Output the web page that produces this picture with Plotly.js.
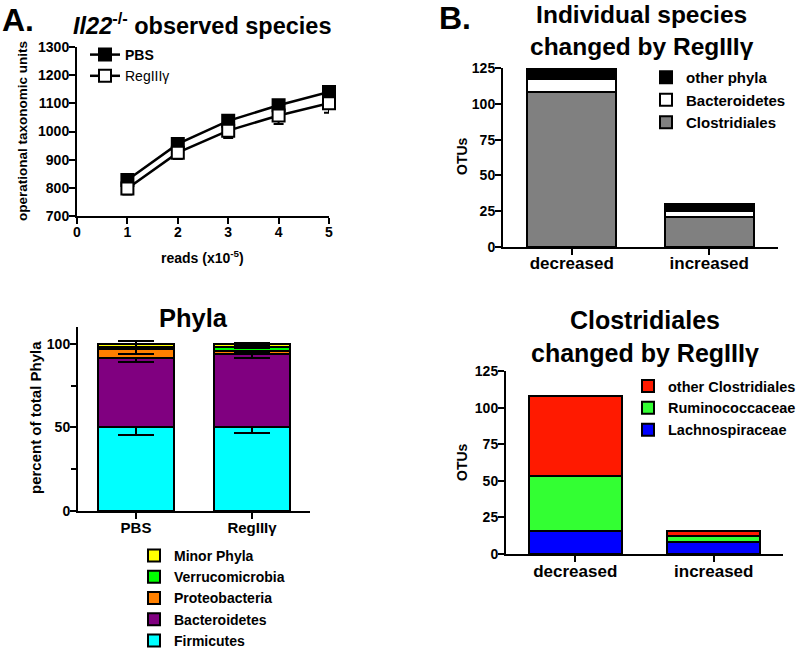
<!DOCTYPE html>
<html>
<head>
<meta charset="utf-8">
<script src="https://cdn.plot.ly/plotly-3.0.1.min.js"></script>
<style>html,body{margin:0;padding:0;background:#fff;}#chart{width:800px;height:648px;}</style>
</head>
<body>
<div id="chart"></div>
<script>
// ---- Panel A (top): observed species rarefaction ----
const reads = [1, 2, 3, 4, 5];
const pbsOTU = [828, 956, 1038, 1093, 1140];
const pbsErr = [10, 10, 10, 10, 10];
const regOTU = [798, 925, 1003, 1057, 1100];
const regErr = [22, 23, 26, 30, 33];

// ---- Panel A (bottom): Phyla ----
const phylaGroups = ['PBS', 'RegIIIγ'];
const firmicutes = [50.5, 50.5];
const firmicutesErr = [5, 4];
const bacteroidetes = [41, 43.5];
const bacteroidetesErr = [2.7, 2.5];
const proteobacteria = [5.5, 1.5];
const proteobacteriaErr = [3, 1];
const verrucomicrobia = [1.3, 2.5];
const verrucomicrobiaErr = [0.3, 0.5];
const minorPhyla = [1.7, 2];
const minorPhylaErr = [1.8, 0.5];

// ---- Panel B (top): individual species changed ----
const changeCats = ['decreased', 'increased'];
const clostridialesOTU = [108, 21];
const bacteroidetesOTU = [9, 4];
const otherPhylaOTU = [7, 5];

// ---- Panel B (bottom): Clostridiales changed ----
const lachnoOTU = [16, 8];
const ruminoOTU = [37, 4];
const otherClosOTU = [55, 4];

const W = 800, H = 648;
const px = x => x / W;
const py = y => 1 - y / H;
const FF = 'Liberation Sans, Arial, Helvetica, sans-serif';

function axisStyle(extra) {
  return Object.assign({
    showline: true, linecolor: 'black', linewidth: 2,
    ticks: 'outside', ticklen: 6, tickwidth: 2, tickcolor: 'black',
    showgrid: false, zeroline: false, fixedrange: true, automargin: false,
    tickfont: {family: FF, size: 14, color: 'black', weight: 'bold'}
  }, extra);
}

const barLine = {color: 'black', width: 2};
const errStyle = {type: 'data', color: 'black', thickness: 2, width: 18};

const traces = [
  // Line chart
  {x: reads, y: pbsOTU, name: '<b>PBS</b>', type: 'scatter', mode: 'lines+markers',
   xaxis: 'x', yaxis: 'y', legend: 'legend', cliponaxis: false,
   line: {color: 'black', width: 2.5},
   marker: {symbol: 'square', size: 12, color: 'black', line: {color: 'black', width: 2}},
   error_y: {type: 'data', array: pbsErr, color: 'black', thickness: 2, width: 5}},
  {x: reads, y: regOTU, name: 'RegIIIγ', type: 'scatter', mode: 'lines+markers',
   xaxis: 'x', yaxis: 'y', legend: 'legend', cliponaxis: false,
   line: {color: 'black', width: 2.5},
   marker: {symbol: 'square', size: 12, color: 'white', line: {color: 'black', width: 2}},
   error_y: {type: 'data', array: regErr, color: 'black', thickness: 2, width: 5}},

  // Phyla stacked bars
  {x: phylaGroups, y: firmicutes, name: 'Firmicutes', type: 'bar', xaxis: 'x2', yaxis: 'y2', legend: 'legend2',
   width: 0.66, marker: {color: '#00ffff', line: barLine}, error_y: Object.assign({array: firmicutesErr}, errStyle)},
  {x: phylaGroups, y: bacteroidetes, name: 'Bacteroidetes', type: 'bar', xaxis: 'x2', yaxis: 'y2', legend: 'legend2',
   width: 0.66, marker: {color: '#800080', line: barLine}, error_y: Object.assign({array: bacteroidetesErr}, errStyle)},
  {x: phylaGroups, y: proteobacteria, name: 'Proteobacteria', type: 'bar', xaxis: 'x2', yaxis: 'y2', legend: 'legend2',
   width: 0.66, marker: {color: '#ff8000', line: barLine}, error_y: Object.assign({array: proteobacteriaErr}, errStyle)},
  {x: phylaGroups, y: verrucomicrobia, name: 'Verrucomicrobia', type: 'bar', xaxis: 'x2', yaxis: 'y2', legend: 'legend2',
   width: 0.66, marker: {color: '#00ff00', line: barLine}, error_y: Object.assign({array: verrucomicrobiaErr}, errStyle)},
  {x: phylaGroups, y: minorPhyla, name: 'Minor Phyla', type: 'bar', xaxis: 'x2', yaxis: 'y2', legend: 'legend2',
   width: 0.66, marker: {color: '#ffff00', line: barLine}, error_y: Object.assign({array: minorPhylaErr}, errStyle)},

  // B top
  {x: changeCats, y: clostridialesOTU, name: 'Clostridiales', type: 'bar', xaxis: 'x3', yaxis: 'y3', legend: 'legend3',
   width: 0.65, marker: {color: '#808080', line: barLine}},
  {x: changeCats, y: bacteroidetesOTU, name: 'Bacteroidetes', type: 'bar', xaxis: 'x3', yaxis: 'y3', legend: 'legend3',
   width: 0.65, marker: {color: '#ffffff', line: barLine}},
  {x: changeCats, y: otherPhylaOTU, name: 'other phyla', type: 'bar', xaxis: 'x3', yaxis: 'y3', legend: 'legend3',
   width: 0.65, marker: {color: '#000000', line: barLine}},

  // B bottom
  {x: changeCats, y: lachnoOTU, name: 'Lachnospiraceae', type: 'bar', xaxis: 'x4', yaxis: 'y4', legend: 'legend4',
   width: 0.67, marker: {color: '#0000ff', line: barLine}},
  {x: changeCats, y: ruminoOTU, name: 'Ruminococcaceae', type: 'bar', xaxis: 'x4', yaxis: 'y4', legend: 'legend4',
   width: 0.67, marker: {color: '#33ff33', line: barLine}},
  {x: changeCats, y: otherClosOTU, name: 'other Clostridiales', type: 'bar', xaxis: 'x4', yaxis: 'y4', legend: 'legend4',
   width: 0.67, marker: {color: '#ff1a00', line: barLine}}
];

function ann(text, x, y, size, extra) {
  return Object.assign({
    text: text, xref: 'paper', yref: 'paper', x: px(x), y: py(y),
    xanchor: 'center', yanchor: 'middle', showarrow: false,
    font: {family: FF, size: size, color: 'black'}
  }, extra || {});
}

const legendFont = {family: FF, size: 15, color: 'black', weight: 'bold'};
const xStand = -4, yStand = -3;

const layout = {
  width: W, height: H,
  margin: {l: 0, r: 0, t: 0, b: 0, autoexpand: false},
  paper_bgcolor: 'white', plot_bgcolor: 'white',
  barmode: 'stack',
  font: {family: FF, color: 'black'},
  xaxis: axisStyle({domain: [px(77), px(329)], anchor: 'y', range: [0, 5], dtick: 1, tick0: 0, ticklabelstandoff: xStand}),
  yaxis: axisStyle({domain: [py(216), py(47)], anchor: 'x', range: [700, 1300], dtick: 100, ticklabelstandoff: yStand}),
  xaxis2: axisStyle({domain: [px(78), px(310)], anchor: 'y2', type: 'category', range: [-0.5, 1.5], ticklabelstandoff: xStand,
    tickfont: {family: FF, size: 15, color: 'black', weight: 'bold'}}),
  yaxis2: axisStyle({domain: [py(511), py(327)], anchor: 'x2', range: [0, 110], tickvals: [0, 50, 100], ticklabelstandoff: yStand,
    minor: {tickvals: [25, 75], ticklen: 5, tickwidth: 2, tickcolor: 'black', ticks: 'outside'}}),
  xaxis3: axisStyle({domain: [px(503), px(778)], anchor: 'y3', type: 'category', range: [-0.5, 1.5], ticklabelstandoff: -6,
    tickfont: {family: FF, size: 17, color: 'black', weight: 'bold'}}),
  yaxis3: axisStyle({domain: [py(247), py(68)], anchor: 'x3', range: [0, 125], dtick: 25, ticklabelstandoff: yStand}),
  xaxis4: axisStyle({domain: [px(506), px(783)], anchor: 'y4', type: 'category', range: [-0.5, 1.5], ticklabelstandoff: -5,
    tickfont: {family: FF, size: 17, color: 'black', weight: 'bold'}}),
  yaxis4: axisStyle({domain: [py(554), py(371)], anchor: 'x4', range: [0, 125], dtick: 25, ticklabelstandoff: yStand}),
  legend: {x: px(85), y: py(39), xanchor: 'left', yanchor: 'top', traceorder: 'normal',
    font: {family: FF, size: 14, color: 'black'}, bgcolor: 'rgba(0,0,0,0)'},
  legend2: {x: px(134), y: py(540), xanchor: 'left', yanchor: 'top', traceorder: 'reversed',
    font: {family: FF, size: 14, color: 'black', weight: 'bold'}, bgcolor: 'rgba(0,0,0,0)'},
  legend3: {x: px(646), y: py(61), xanchor: 'left', yanchor: 'top', traceorder: 'reversed',
    font: legendFont, bgcolor: 'rgba(0,0,0,0)'},
  legend4: {x: px(628), y: py(370), xanchor: 'left', yanchor: 'top', traceorder: 'reversed',
    font: {family: FF, size: 14.5, color: 'black', weight: 'bold'}, bgcolor: 'rgba(0,0,0,0)'},
  annotations: [
    ann('<b>A.</b>', 0, 20, 32, {xanchor: 'left'}),
    ann('<b><i>Il22</i><sup>-/-</sup> observed species</b>', 203, 24, 23.5),
    ann('<b>B.</b>', 437, 18, 32, {xanchor: 'left'}),
    ann('<b>Individual species<br>changed by RegIIIγ</b>', 642, 31, 24.5),
    ann('<b>Phyla</b>', 193, 318, 25.5),
    ann('<b>Clostridiales<br>changed by RegIIIγ</b>', 645, 336, 25),
    ann('<b>operational taxonomic units</b>', 22, 131, 13.5, {textangle: -90}),
    ann('<b>reads (x10<sup>-5</sup>)</b>', 203, 257, 14),
    ann('<b>percent of total Phyla</b>', 35, 418, 15, {textangle: -90}),
    ann('<b>OTUs</b>', 462, 156, 14, {textangle: -90}),
    ann('<b>OTUs</b>', 462, 462, 14, {textangle: -90})
  ]
};

Plotly.newPlot('chart', traces, layout, {displayModeBar: false, staticPlot: true});
</script>
</body>
</html>
